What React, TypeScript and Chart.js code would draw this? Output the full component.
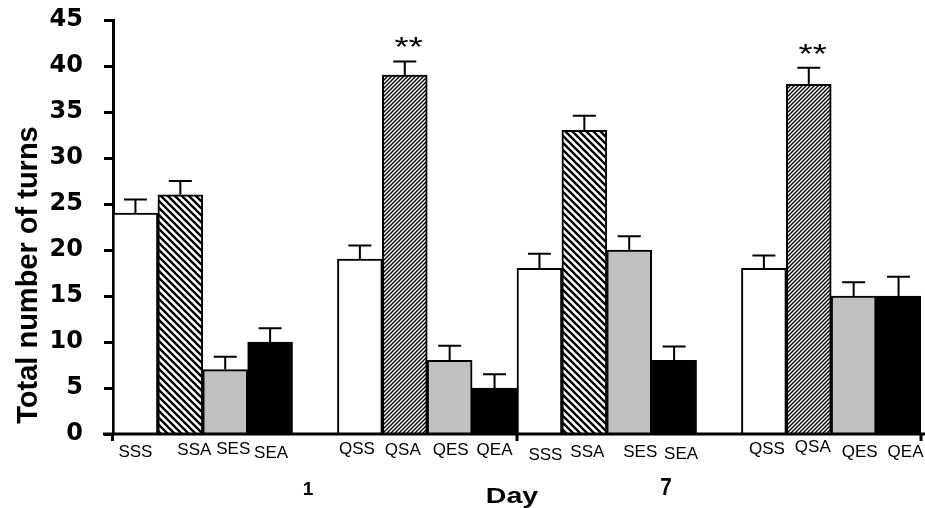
import { useEffect, useRef } from "react";
import { Chart, registerables } from "chart.js";

Chart.register(...registerables);

// Treatment codes shown under each bar
const salineLabels = ["SSS", "SSA", "SES", "SEA"];
const quinpiroleLabels = ["QSS", "QSA", "QES", "QEA"];
const dayLabels = ["1", "7"];
const yTickValues = [0, 5, 10, 15, 20, 25, 30, 35, 40, 45];

// Mean total number of turns
const day1Saline = [24, 26, 7, 10];
const day1Quinpirole = [19, 39, 8, 5];
const day7Saline = [18, 33, 20, 8];
const day7Quinpirole = [18, 38, 15, 15];

// Standard errors
const day1SalineErr = [1.5, 1.5, 1.4, 1.5];
const day1QuinpiroleErr = [1.5, 1.5, 1.6, 1.5];
const day7SalineErr = [1.6, 1.6, 1.5, 1.5];
const day7QuinpiroleErr = [1.4, 1.8, 1.5, 2.1];

// Significance markers
const day1QuinpiroleSig = ["", "**", "", ""];
const day7QuinpiroleSig = ["", "**", "", ""];

// One slot per bar, with an empty slot between the saline and quinpirole groups of each day
const categories = [...salineLabels, "", ...quinpiroleLabels, ...salineLabels, "", ...quinpiroleLabels];
const values = [...day1Saline, null, ...day1Quinpirole, ...day7Saline, null, ...day7Quinpirole];
const errors = [...day1SalineErr, null, ...day1QuinpiroleErr, ...day7SalineErr, null, ...day7QuinpiroleErr];
const marks = [...salineLabels.map(() => ""), "", ...day1QuinpiroleSig, ...salineLabels.map(() => ""), "", ...day7QuinpiroleSig];

// small offsets of the code labels relative to bar centres
const labelDx = [0, 14, 8, 1, 0, -3, -2, 1, 0, 6, 3, 11, 7, 0, 3, 4, 6, 7];
const labelBase = [457, 455, 454, 458, 0, 454, 455, 455, 455, 460, 457, 457, 459, 0, 454, 452, 457, 457];

function hatch(ctx: CanvasRenderingContext2D, size: number, width: number, dir: 1 | -1) {
  const tile = document.createElement("canvas");
  tile.width = size;
  tile.height = size;
  const t = tile.getContext("2d")!;
  t.fillStyle = "#ffffff";
  t.fillRect(0, 0, size, size);
  t.strokeStyle = "#000000";
  t.lineWidth = width;
  t.beginPath();
  for (let k = -1; k <= 1; k++) {
    if (dir === 1) {
      // "\" lines
      t.moveTo(k * size - 1, -1);
      t.lineTo(k * size + size + 1, size + 1);
    } else {
      // "/" lines
      t.moveTo(k * size - 1, size + 1);
      t.lineTo(k * size + size + 1, -1);
    }
  }
  t.stroke();
  return ctx.createPattern(tile, "repeat")!;
}

function stretched(ctx: CanvasRenderingContext2D, text: string, x: number, y: number, sx: number) {
  ctx.save();
  ctx.translate(x, y);
  ctx.scale(sx, 1);
  ctx.fillText(text, 0, 0);
  ctx.restore();
}

const decorations = {
  id: "decorations",
  afterDatasetsDraw(chart: any) {
    const ctx: CanvasRenderingContext2D = chart.ctx;
    const xs = chart.scales.x;
    const ys = chart.scales.y;
    const meta = chart.getDatasetMeta(0);
    const zeroY = ys.getPixelForValue(0);
    const axisX = chart.chartArea.left;
    ctx.save();
    ctx.strokeStyle = "#000";
    ctx.fillStyle = "#000";

    // error bars
    ctx.lineWidth = 2;
    values.forEach((v, i) => {
      const e = errors[i];
      if (v == null || e == null) return;
      const bar = meta.data[i];
      const cx = bar.x;
      const top = ys.getPixelForValue(v);
      const cap = ys.getPixelForValue(v + e);
      ctx.beginPath();
      ctx.moveTo(cx, top);
      ctx.lineTo(cx, cap);
      ctx.moveTo(cx - 11.5, cap);
      ctx.lineTo(cx + 11.5, cap);
      ctx.stroke();
      if (marks[i]) {
        ctx.font = "28px 'Liberation Sans', Arial, sans-serif";
        ctx.textAlign = "center";
        ctx.textBaseline = "alphabetic";
        stretched(ctx, marks[i], cx + 4, cap - 21 + 16, 1.3);
      }
    });

    // x axis line and day boundary ticks
    ctx.lineWidth = 3;
    ctx.beginPath();
    ctx.moveTo(axisX - 10, zeroY);
    ctx.lineTo(chart.width, zeroY);
    ctx.moveTo(axisX - 0.5, zeroY);
    ctx.lineTo(axisX - 0.5, zeroY + 7);
    const mid = (xs.getPixelForValue(8) + xs.getPixelForValue(9)) / 2;
    ctx.moveTo(mid, zeroY);
    ctx.lineTo(mid, zeroY + 7);
    ctx.moveTo(chart.chartArea.right, zeroY);
    ctx.lineTo(chart.chartArea.right, zeroY + 7);
    ctx.stroke();

    // bar code labels
    ctx.font = "17px 'Liberation Sans', Arial, sans-serif";
    ctx.textAlign = "center";
    ctx.textBaseline = "alphabetic";
    categories.forEach((c, i) => {
      if (!c) return;
      ctx.fillText(c, xs.getPixelForValue(i) + labelDx[i], labelBase[i]);
    });

    // day numbers and axis title
    ctx.font = "bold 19px 'Liberation Sans', Arial, sans-serif";
    ctx.fillText(dayLabels[0], xs.getPixelForValue(4) - 7, 495);
    ctx.font = "bold 23px 'Liberation Sans', Arial, sans-serif";
    stretched(ctx, dayLabels[1], xs.getPixelForValue(12) - 8, 495, 0.9);
    ctx.font = "bold 22px 'Liberation Sans', Arial, sans-serif";
    stretched(ctx, "Day", mid - 5, 503, 1.3);

    ctx.font = "bold 29px 'Liberation Sans', Arial, sans-serif";
    ctx.translate(37, 275);
    ctx.rotate(-Math.PI / 2);
    ctx.fillText("Total number of turns", 0, 0);
    ctx.restore();
  },
};

export default function App() {
  const ref = useRef<HTMLCanvasElement | null>(null);

  useEffect(() => {
    const canvas = ref.current!;
    const ctx = canvas.getContext("2d")!;
    const wide = hatch(ctx, 7, 2.3, 1);
    const fine = hatch(ctx, 4, 1.4, -1);
    const salineFills = ["#ffffff", wide, "#c0c0c0", "#000000"];
    const quinFills = ["#ffffff", fine, "#c0c0c0", "#000000"];
    const fills = [...salineFills, "#ffffff", ...quinFills, ...salineFills, "#ffffff", ...quinFills];

    const chart = new Chart(canvas, {
      type: "bar",
      data: {
        labels: categories,
        datasets: [
          {
            data: values as any,
            backgroundColor: fills as any,
            borderColor: "#000000",
            borderWidth: 2,
            barPercentage: 1,
            categoryPercentage: 1,
          },
        ],
      },
      options: {
        responsive: false,
        animation: false,
        devicePixelRatio: 1,
        layout: { padding: { left: 0, top: 20, right: 4, bottom: 74 } },
        plugins: { legend: { display: false }, tooltip: { enabled: false } },
        scales: {
          x: { display: false, offset: true },
          y: {
            min: 0,
            max: 45,
            afterFit: (s: any) => {
              s.width = 113;
              s.paddingTop = 0;
              s.paddingBottom = 0;
            },
            afterBuildTicks: (s: any) => {
              s.ticks = yTickValues.map((v) => ({ value: v }));
            },
            border: { display: true, color: "#000", width: 3 },
            grid: {
              display: true,
              drawOnChartArea: false,
              drawTicks: true,
              tickLength: 9,
              tickWidth: 3,
              tickColor: "#000",
            },
            ticks: {
              color: "#000",
              padding: 21,
              font: { family: "'DejaVu Sans', sans-serif", weight: "bold", size: 24 },
            },
          },
        },
      },
      plugins: [decorations],
    });
    return () => chart.destroy();
  }, []);

  return (
    <div style={{ position: "absolute", left: 0, top: 0, width: 925, height: 508, background: "#fff" }}>
      <canvas ref={ref} width={925} height={508} />
    </div>
  );
}
